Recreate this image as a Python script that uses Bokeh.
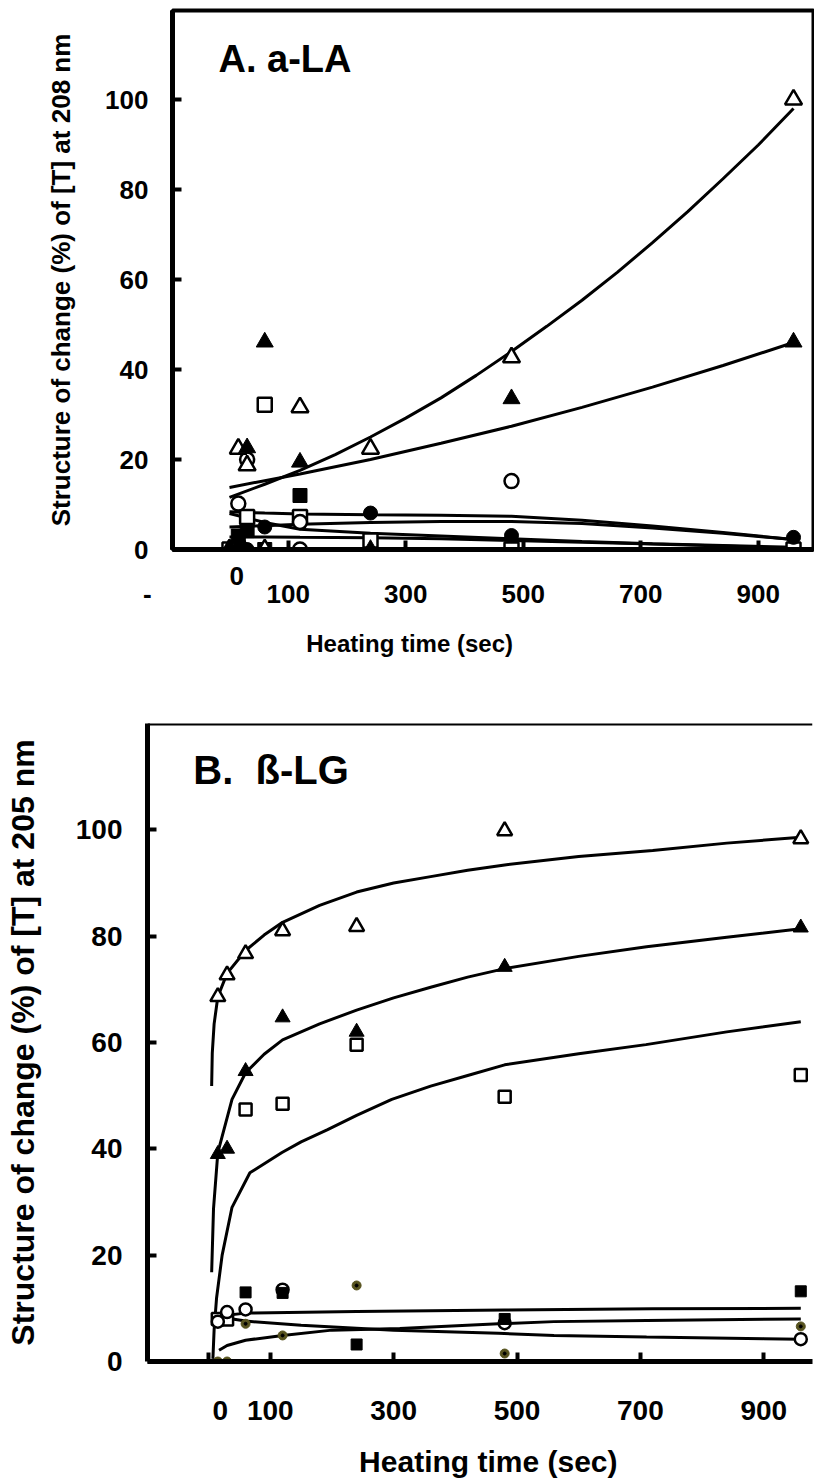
from bokeh.plotting import figure
from bokeh.models import Label, Span, FixedTicker, Range1d
from bokeh.embed import file_html
from bokeh.resources import INLINE

FONT = "Liberation Sans"
NB = "\u00a0"

# ---------------- Panel A data (a-LA, 208 nm) ----------------
a_xtick_pos = [-96.9, 0, 100, 300, 500, 700, 900]
a_xtick_txt = ["-", "0", "100", "300", "500", "700", "900"]
a_yticks = [0, 20, 40, 60, 80, 100]

a_otri_t = [0, 15, 30, 60, 120, 240, 480, 960]
a_otri_v = [0, 22.4, 18.7, 0, 31.6, 22.4, 42.7, 100.0]
a_ftri_t = [0, 15, 30, 60, 120, 240, 480, 960]
a_ftri_v = [0, 2.4, 22.6, 46.1, 19.4, 0, 33.5, 46.1]
a_ocir_t = [15, 30, 120, 120, 480]
a_ocir_v = [10.2, 20.0, 6.1, 0, 15.2]
a_fcir_t = [15, 30, 60, 240, 480, 960]
a_fcir_v = [0, 0, 5.0, 8.1, 3.1, 2.7]
a_osq_t = [0, 30, 60, 120, 240, 480, 960]
a_osq_v = [0, 7.2, 32.2, 7.2, 2.0, 0, 0]
a_fsq_t = [15, 30, 60, 120]
a_fsq_v = [3.0, 4.2, 0, 12.0]

# fitted curves
a_fit_otri_t = [0, 60, 120, 180, 240, 300, 360, 420, 480, 540, 600, 660, 720, 780, 840, 900, 960]
a_fit_otri = [11.6, 14.5, 17.6, 21.1, 25.0, 29.2, 33.7, 38.7, 44.0, 49.6, 55.4, 61.6, 68.2, 75.1, 82.4, 89.9, 98.0]
a_fit_t = [0, 60, 120, 240, 360, 480, 600, 720, 840, 960]
a_fit_ftri = [13.8, 15.3, 16.8, 20.0, 23.6, 27.4, 31.6, 36.1, 40.9, 46.0]
a_fit_fcir = [8.4, 8.1, 7.9, 7.7, 7.6, 7.4, 6.5, 5.2, 3.8, 2.2]
a_fit_osq = [5.0, 5.3, 5.6, 6.0, 6.2, 6.2, 5.8, 4.8, 3.6, 2.2]
a_fit_ocir = [8.0, 6.0, 4.5, 3.6, 3.0, 2.4, 1.8, 1.3, 0.9, 0.5]
a_fit_fsq = [2.8, 2.8, 2.7, 2.6, 2.4, 2.0, 1.6, 1.2, 0.8, 0.3]

# ---------------- Panel B data (b-LG, 205 nm) ----------------
b_xtick_pos = [0, 100, 300, 500, 700, 900]
b_xtick_txt = ["0", "100", "300", "500", "700", "900"]
b_yticks = [0, 20, 40, 60, 80, 100]

b_t = [15, 30, 60, 120, 240, 480, 960]
b_otri = [68.6, 72.7, 76.7, 81.0, 81.8, 99.8, 98.3]
b_ftri = [39.0, 40.0, 54.6, 64.7, 62.0, 74.2, 81.6]
b_osq = [8.0, 7.9, 47.4, 48.5, 59.6, 49.8, 53.9]
b_fcir = [0, 0, 7.1, 4.9, 14.3, 1.5, 6.6]
b_fsq_t = [60, 120, 240, 480, 960]
b_fsq = [13.0, 12.9, 3.2, 8.0, 13.2]
b_ocir_t = [15, 30, 60, 120, 480, 960]
b_ocir = [7.5, 9.3, 9.8, 13.5, 7.2, 4.2]

b_fit_otri_t = [5, 6, 9, 15, 30, 60, 90, 120, 180, 240, 300, 360, 420, 480, 600, 720, 840, 960]
b_fit_otri = [51.8, 58.0, 63.5, 68.6, 73.0, 77.3, 80.2, 82.6, 85.8, 88.3, 90.0, 91.2, 92.4, 93.4, 95.0, 96.1, 97.5, 98.6]
b_fit_ftri_t = [5, 8, 15, 38, 60, 90, 120, 180, 240, 300, 360, 420, 480, 600, 710, 840, 960]
b_fit_ftri = [16.8, 28.7, 39.3, 49.3, 54.3, 57.8, 60.5, 63.5, 66.1, 68.4, 70.4, 72.3, 73.9, 76.2, 78.0, 79.8, 81.4]
b_fit_osq_t = [7, 9, 13, 22, 38, 67, 119, 150, 193, 240, 297, 360, 420, 480, 600, 709, 840, 960]
b_fit_osq = [0.5, 6.0, 12.0, 20.0, 29.0, 35.5, 39.3, 41.3, 43.6, 46.3, 49.3, 51.8, 53.8, 55.8, 57.9, 59.6, 62.0, 63.9]
b_fit_fsq_t = [15, 60, 240, 480, 720, 960]
b_fit_fsq = [8.5, 9.1, 9.4, 9.7, 9.9, 10.0]
b_fit_ocir_t = [15, 60, 150, 300, 470, 560, 710, 900, 960]
b_fit_ocir = [8.4, 7.6, 6.8, 5.9, 5.3, 4.9, 4.6, 4.3, 4.2]
b_fit_fcir_t = [17, 30, 60, 120, 200, 310, 470, 560, 710, 960]
b_fit_fcir = [2.1, 3.0, 4.0, 4.9, 5.9, 6.2, 7.1, 7.5, 7.7, 8.0]


def style(p, yticks, xtick_px, ytick_px, ylab_px, ylab_stand, xstand, ystand, axis_w):
    p.grid.visible = False
    p.background_fill_color = "white"
    p.border_fill_color = "white"
    p.yaxis.ticker = FixedTicker(ticks=yticks)
    for ax in (p.xaxis[0], p.yaxis[0]):
        ax.axis_line_width = axis_w
        ax.axis_line_color = "black"
        ax.major_tick_in = 9
        ax.major_tick_out = 0
        ax.major_tick_line_width = 4
        ax.major_tick_line_color = "black"
        ax.minor_tick_in = 0
        ax.minor_tick_out = 0
        ax.major_label_text_font = FONT
        ax.major_label_text_font_style = "bold"
        ax.major_label_text_color = "black"
        ax.axis_label_text_font = FONT
        ax.axis_label_text_font_style = "bold"
        ax.axis_label_text_color = "black"
    p.xaxis[0].major_label_text_font_size = xtick_px
    p.yaxis[0].major_label_text_font_size = ytick_px
    p.xaxis[0].major_label_standoff = xstand
    p.yaxis[0].major_label_standoff = ystand
    p.yaxis[0].axis_label_text_font_size = ylab_px
    p.yaxis[0].axis_label_standoff = ylab_stand


def lab(p, x, y, text, size):
    p.add_layout(Label(x=x, y=y, text=text, text_font=FONT, text_font_style="bold",
                       text_font_size=size, text_align="left", text_baseline="alphabetic",
                       text_color="black"))


# ================= Panel A =================
pa = figure(width=814, height=680, x_range=Range1d(-97, 994), y_range=Range1d(0, 119.8),
            output_backend="svg", toolbar_location=None,
            min_border_left=172, min_border_right=1, min_border_top=10, min_border_bottom=131)
pa.outline_line_color = "black"
pa.outline_line_width = 4
pa.yaxis.axis_label = "Structure of change (%) of [T] at 208 nm"
style(pa, a_yticks, "26px", "26px", "26px", 26, 11, 24, 5)

# tick labels: "0" sits one row higher than the others; "-" drawn left of the axis corner
a_over = {}
for pos, txt in zip(a_xtick_pos, a_xtick_txt):
    if txt == "0":
        a_over[pos] = NB * 2 + txt
    elif txt == "-":
        a_over[pos] = "\n" + txt + NB * 7
    else:
        a_over[pos] = "\n" + txt
pa.xaxis.ticker = FixedTicker(ticks=a_xtick_pos)
pa.xaxis.major_label_overrides = a_over
pa.xaxis.major_label_text_line_height = 0.62
pa.xaxis.axis_label = "Heating time (sec)" + NB * 25
pa.xaxis.axis_label_text_font_size = "24px"
pa.xaxis.axis_label_standoff = 18

pa.line(a_fit_otri_t, a_fit_otri, line_color="black", line_width=3)
for ys in (a_fit_ftri, a_fit_fcir, a_fit_osq, a_fit_ocir, a_fit_fsq):
    pa.line(a_fit_t, ys, line_color="black", line_width=3)

pa.scatter(a_osq_t, a_osq_v, marker="square", size=14, fill_color="white", line_color="black", line_width=2.5)
pa.scatter(a_fsq_t, a_fsq_v, marker="square", size=14, fill_color="black", line_color="black")
pa.scatter(a_ocir_t, a_ocir_v, marker="circle", size=14, fill_color="white", line_color="black", line_width=2.5)
pa.scatter(a_fcir_t, a_fcir_v, marker="circle", size=14, fill_color="black", line_color="black")
pa.scatter(a_otri_t, a_otri_v, marker="triangle", size=17, fill_color="white", line_color="black", line_width=2.5)
pa.scatter(a_ftri_t, a_ftri_v, marker="triangle", size=17, fill_color="black", line_color="black")

lab(pa, -18.7, 109, "A. a-LA", "38px")

# ================= Panel B =================
pb = figure(width=814, height=800, x_range=Range1d(-99, 979), y_range=Range1d(0, 120),
            output_backend="svg", toolbar_location=None,
            min_border_left=147, min_border_right=2, min_border_top=43, min_border_bottom=117)
pb.outline_line_color = None
pb.add_layout(Span(location=120, dimension="width", line_color="black", line_width=4))
pb.yaxis.axis_label = "Structure of change (%) of [T] at 205 nm"
style(pb, b_yticks, "28px", "28px", "32px", 32, 33, 25, 5)

b_over = {}
for pos, txt in zip(b_xtick_pos, b_xtick_txt):
    b_over[pos] = (NB * 3 + txt) if txt == "0" else txt
pb.xaxis.ticker = FixedTicker(ticks=b_xtick_pos)
pb.xaxis.major_label_overrides = b_over
pb.xaxis.axis_label = NB * 2 + "Heating time (sec)"
pb.xaxis.axis_label_text_font_size = "30px"
pb.xaxis.axis_label_standoff = 16

pb.line(b_fit_otri_t, b_fit_otri, line_color="black", line_width=3)
pb.line(b_fit_ftri_t, b_fit_ftri, line_color="black", line_width=3)
pb.line(b_fit_osq_t, b_fit_osq, line_color="black", line_width=3)
pb.line(b_fit_fsq_t, b_fit_fsq, line_color="black", line_width=3)
pb.line(b_fit_ocir_t, b_fit_ocir, line_color="black", line_width=3)
pb.line(b_fit_fcir_t, b_fit_fcir, line_color="black", line_width=3)

pb.scatter(b_t, b_osq, marker="square", size=12, fill_color="white", line_color="black", line_width=2.5)
pb.scatter(b_ocir_t, b_ocir, marker="circle", size=12, fill_color="white", line_color="black", line_width=2.5)
pb.scatter(b_fsq_t, b_fsq, marker="square", size=11, fill_color="black", line_color="black")
pb.scatter(b_t, b_fcir, marker="circle", size=9, fill_color="#57531f", line_color="#57531f")
pb.scatter(b_t, b_fcir, marker="circle", size=3, fill_color="black", line_color="black")
pb.scatter(b_t, b_otri, marker="triangle", size=15, fill_color="white", line_color="black", line_width=2.5)
pb.scatter(b_t, b_ftri, marker="triangle", size=15, fill_color="black", line_color="black")

lab(pb, -24.8, 111.2, "B." + NB + NB + "ß-LG", "40px")

# two independent roots so the frames are not forced into alignment
open("out.html", "w").write(file_html([pa, pb], INLINE))
